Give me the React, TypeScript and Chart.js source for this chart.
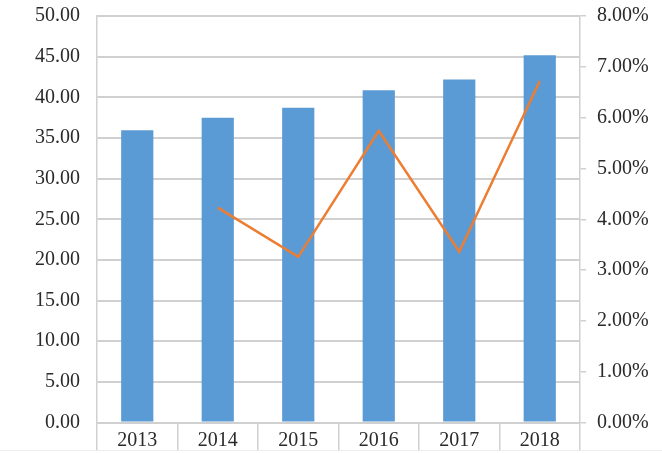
import React, { useEffect, useRef } from "react";
import { Chart, registerables } from "chart.js";

Chart.register(...registerables);

const categories = ["2013", "2014", "2015", "2016", "2017", "2018"];
const barValues = [35.95, 37.5, 38.7, 40.87, 42.2, 45.17];
const growthValues: (number | null)[] = [null, 4.23, 3.26, 5.74, 3.36, 6.72];
const leftTicks = { min: 0, max: 50, step: 5 };
const rightTicks = { min: 0, max: 8, step: 1 };

const GRID = "#d0d0d0";
const FONT = { family: "'Liberation Serif', 'Times New Roman', serif", size: 20 };
const TEXT = "#2a2a2a";

export default function App() {
  const ref = useRef<HTMLCanvasElement | null>(null);
  useEffect(() => {
    if (!ref.current) return;
    const chart = new Chart(ref.current, {
      type: "bar",
      data: {
        labels: categories,
        datasets: [
          {
            type: "line",
            data: growthValues,
            yAxisID: "y1",
            borderColor: "#ed7d31",
            borderWidth: 2.5,
            pointRadius: 0,
            tension: 0,
            order: 0,
            spanGaps: false,
          },
          {
            type: "bar",
            data: barValues,
            yAxisID: "y",
            backgroundColor: "#5b9bd5",
            barPercentage: 0.4,
            categoryPercentage: 1,
            order: 1,
          },
        ],
      },
      options: {
        animation: false,
        responsive: false,
        layout: { padding: { top: 16, left: 0, right: 0, bottom: 0 } },
        plugins: { legend: { display: false }, tooltip: { enabled: false } },
        scales: {
          x: {
            offset: true,
            grid: {
              offset: true,
              drawOnChartArea: false,
              drawTicks: true,
              tickLength: 28,
              color: GRID,
              lineWidth: 1.5,
            },
            border: { display: true, color: GRID, width: 1.5 },
            ticks: { font: FONT, color: TEXT, padding: -22, maxRotation: 0 },
            afterFit: (s: any) => {
              s.height = 30.5;
              s.paddingLeft = 0;
              s.paddingRight = 0;
            },
          },
          y: {
            position: "left",
            min: leftTicks.min,
            max: leftTicks.max,
            ticks: {
              stepSize: leftTicks.step,
              font: FONT,
              color: TEXT,
              padding: 17,
              callback: (v: any) => Number(v).toFixed(2),
            },
            grid: { color: GRID, lineWidth: 2, drawTicks: false },
            border: { display: true, color: GRID, width: 1.5 },
            afterFit: (s: any) => {
              s.width = 97;
              s.paddingTop = 0;
              s.paddingBottom = 0;
            },
          },
          y1: {
            position: "right",
            min: rightTicks.min,
            max: rightTicks.max,
            ticks: {
              stepSize: rightTicks.step,
              font: FONT,
              color: TEXT,
              padding: 11,
              callback: (v: any) => Number(v).toFixed(2) + "%",
            },
            grid: {
              drawOnChartArea: false,
              drawTicks: true,
              tickLength: 6,
              color: GRID,
              lineWidth: 1.5,
            },
            border: { display: true, color: GRID, width: 1.5 },
            afterFit: (s: any) => {
              s.width = 82;
              s.paddingTop = 0;
              s.paddingBottom = 0;
            },
          },
        },
      },
    });
    return () => chart.destroy();
  }, []);
  return (
    <div style={{ position: "absolute", left: 0, top: 0, width: 662, height: 453, background: "#fff" }}>
      <canvas ref={ref} width={662} height={453} style={{ display: "block" }} />
      <div style={{ position: "absolute", left: 0, top: 450, width: 662, height: 1, background: "#ececec" }} />
    </div>
  );
}
